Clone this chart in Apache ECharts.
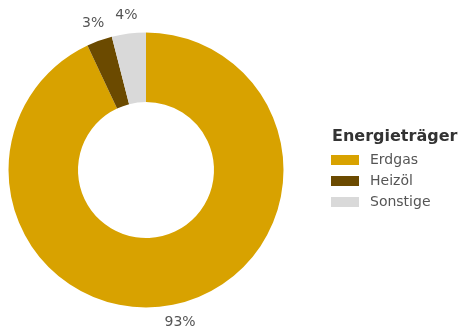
<!DOCTYPE html>
<html>
<head>
<meta charset="utf-8">
<script src="https://cdn.jsdelivr.net/npm/echarts@6/dist/echarts.min.js"></script>
<style>
  html, body { margin: 0; padding: 0; background: #fff; }
  #chart { width: 465px; height: 327px; }
</style>
</head>
<body>
<div id="chart"></div>
<script>
const names = ['Erdgas', 'Heizöl', 'Sonstige'];
const shares = [93, 3, 4];
const colors = ['#D8A200', '#6B4A00', '#D9D9D9'];

const chart = echarts.init(document.getElementById('chart'));
const pieData = names.map((n, i) => ({name: n, value: shares[i], itemStyle: {color: colors[i]}}));

chart.setOption({
  backgroundColor: '#fff',
  animation: false,
  title: {
    text: 'Energieträger',
    left: 332,
    top: 129,
    padding: 0,
    textStyle: {fontFamily: 'DejaVu Sans', fontSize: 16, fontWeight: 'bold', color: '#333'}
  },
  legend: {
    orient: 'vertical',
    left: 331,
    top: 153,
    padding: 0,
    icon: 'rect',
    itemWidth: 28,
    itemHeight: 10,
    itemGap: 7,
    data: names,
    textStyle: {fontFamily: 'DejaVu Sans', fontSize: 14, color: '#555', padding: [0, 0, 0, 6]}
  },
  series: [
    {
      type: 'pie',
      center: [146, 170],
      radius: [68, 137.5],
      startAngle: 90,
      clockwise: true,
      label: {show: false},
      labelLine: {show: false},
      emphasis: {disabled: true},
      data: pieData
    },
    {
      // transparent ring only used to place the percentage labels
      type: 'pie',
      center: [146, 170],
      radius: [143, 163],
      startAngle: 90,
      clockwise: true,
      silent: true,
      itemStyle: {color: 'transparent'},
      label: {
        show: true,
        position: 'inside',
        formatter: p => p.value + '%',
        fontFamily: 'DejaVu Sans',
        fontSize: 14,
        color: '#555'
      },
      labelLine: {show: false},
      data: names.map((n, i) => ({name: n, value: shares[i], itemStyle: {color: 'transparent'}}))
    }
  ]
});
</script>
</body>
</html>
